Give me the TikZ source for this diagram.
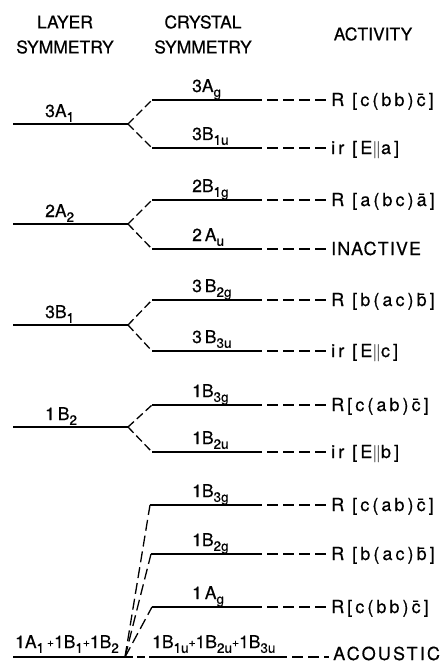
\documentclass[tikz,border=0pt]{standalone}
\usepackage{fontspec}
\setmainfont{TeX Gyre Heros}[FakeBold=0.5]
\newcommand\lo[1]{\raisebox{-4.8pt}{\fontsize{13.5}{14}\selectfont #1}}
\newcommand\pl{{\fontsize{12}{12}\selectfont\raisebox{1.5pt}{+}}}
\newcommand\cbar[1]{\={#1}}
\newcommand\lsp[1]{\addfontfeature{LetterSpace=#1}}
\begin{document}
\begin{tikzpicture}[x=1pt,y=-1pt,
  lvl/.style={line width=1.4pt},
  brn/.style={line width=1.3pt, dash pattern=on 8pt off 4pt},
  tail/.style={line width=1.3pt, dash pattern=on 11pt off 5pt, dash phase=11pt},
  lng/.style={line width=1.3pt, dash pattern=on 11pt off 5pt},
  lab/.style={font=\fontsize{17.5}{20}\selectfont, inner sep=0pt},
  act/.style={lab, anchor=base west, font=\fontsize{18}{20}\selectfont\lsp{17}}]
\useasboundingbox (0,0) rectangle (443,663);
% headers
\node[lab] (h1a) at (65,22) {LAYER};
\node[lab] (h1b) at (65,47) {SYMMETRY};
\node[lab] (h2a) at (203,22) {CRYSTAL};
\node[lab] (h2b) at (203,47) {SYMMETRY};
\node[lab] (h3) at (373,34) {ACTIVITY};
% split groups
\foreach \g/\Y/\T/\B/\L/\Ct/\Cb/\At/\Ab in {
  a/124/100/148/{3A\lo{1}}/{3A\lo{g}}/{3B\lo{1u}}/{R [c(bb)\cbar{c}]}/{ir [E$\Vert$a]},
  b/224/200/249/{2A\lo{2}}/{2B\lo{1g}}/{2\,A\lo{u}}/{R [a(bc)\cbar{a}]}/{\lsp{6}INACTIVE},
  c/325/300/351/{3B\lo{1}}/{3\,B\lo{2g}}/{3\,B\lo{3u}}/{R [b(ac)\cbar{b}]}/{ir [E$\Vert$c]},
  d/427/405/452/{1\,B\lo{2}}/{1B\lo{3g}}/{1B\lo{2u}}/{R[c(ab)\cbar{c}]}/{ir [E$\Vert$b]}}{
  \coordinate (\g L) at (13,\Y);
  \coordinate (\g X) at (128,\Y);
  \coordinate (\g T1) at (152,\T);
  \coordinate (\g T2) at (262,\T);
  \coordinate (\g B1) at (152,\B);
  \coordinate (\g B2) at (262,\B);
  \node[act] (\g At) at (331,\T+6) {\At};
  \node[act] (\g Ab) at (331,\B+6) {\Ab};
  \draw[lvl] (\g L) -- (\g X);
  \draw[brn] (\g X) -- (\g T1);
  \draw[brn] (\g X) -- (\g B1);
  \draw[lvl] (\g T1) -- (\g T2);
  \draw[lvl] (\g B1) -- (\g B2);
  \draw[tail] (\g T2) -- ([xshift=-4pt]\g At.west|-\g T2);
  \draw[tail] (\g B2) -- ([xshift=-4pt]\g Ab.west|-\g B2);
  \node[lab, anchor=base west] (\g Ln) at (45,\Y-7) {\L};
  \node[lab, anchor=base west] (\g Ctn) at (192,\T-8) {\Ct};
  \node[lab, anchor=base west] (\g Cbn) at (192,\B-8) {\Cb};
}
% bottom group
\coordinate (eL) at (13,657);
\coordinate (eX) at (125,657);
\coordinate (e0) at (152,657);
\coordinate (e0b) at (287,657);
\coordinate (e1) at (150,505);
\coordinate (e1b) at (262,505);
\coordinate (e2) at (151,554);
\coordinate (e2b) at (262,554);
\coordinate (e3) at (152,607);
\coordinate (e3b) at (262,607);
\node[act] (ea1) at (331,511) {R [c(ab)\cbar{c}]};
\node[act] (ea2) at (331,560) {R [b(ac)\cbar{b}]};
\node[act] (ea3) at (331,613) {R[c(bb)\cbar{c}]};
\node[act] (ea0) at (333,660) {\lsp{12}ACOUSTIC};
\draw[lvl] (eL) -- (eX);
\draw[lng] (eX) -- (e1);
\draw[lng] (eX) -- (e2);
\draw[lng] (eX) -- (e3);
\draw[brn] (eX) -- (e0);
\draw[lvl] (e1) -- (e1b);
\draw[lvl] (e2) -- (e2b);
\draw[lvl] (e3) -- (e3b);
\draw[lvl] (e0) -- (e0b);
\draw[tail] (e1b) -- ([xshift=-4pt]ea1.west|-e1b);
\draw[tail] (e2b) -- ([xshift=-4pt]ea2.west|-e2b);
\draw[tail] (e3b) -- ([xshift=-4pt]ea3.west|-e3b);
\draw[tail] (e0b) -- ([xshift=-4pt]ea0.west|-e0b);
\node[lab, anchor=base west] (e1n) at (192,497) {1B\lo{3g}};
\node[lab, anchor=base west] (e2n) at (192,546) {1B\lo{2g}};
\node[lab, anchor=base west] (e3n) at (192,599) {1\,A\lo{g}};
\node[lab, anchor=base west] (e0n) at (152,648) {1B\lo{1u}\pl 1B\lo{2u}\pl 1B\lo{3u}};
\node[lab, anchor=base west] (eLn) at (15,648) {1A\lo{1}\,\pl 1B\lo{1}\pl 1B\lo{2}};
\end{tikzpicture}
\end{document}
